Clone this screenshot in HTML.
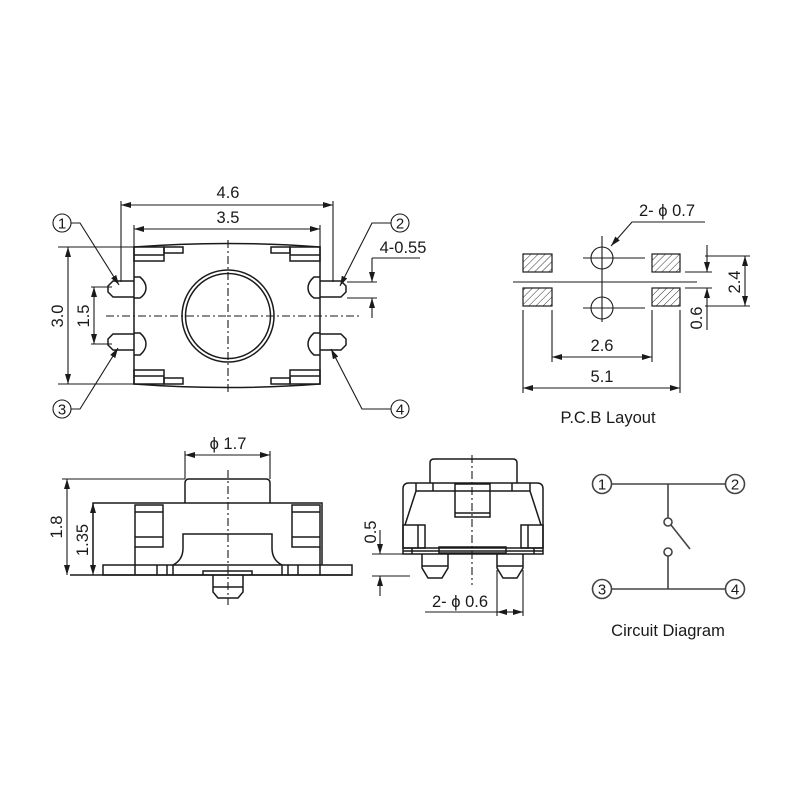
<!DOCTYPE html>
<html><head><meta charset="utf-8"><style>
html,body{margin:0;padding:0;background:#fff}
svg{display:block}
text{font-family:"Liberation Sans",Arial,sans-serif;fill:#1a1a1a}
</style></head><body>
<svg width="800" height="800" viewBox="0 0 800 800" xmlns="http://www.w3.org/2000/svg">
<defs>
<marker id="a" viewBox="0 0 10 6" refX="10" refY="3" markerWidth="10" markerHeight="6" orient="auto-start-reverse" markerUnits="userSpaceOnUse"><path d="M0,0 L10,3 L0,6 z" fill="#1a1a1a"/></marker>
<pattern id="h" width="5" height="5" patternUnits="userSpaceOnUse" patternTransform="rotate(45)"><rect width="5" height="5" fill="#fff"/><line x1="0" y1="0" x2="0" y2="5" stroke="#333" stroke-width="1"/></pattern>
</defs>
<g fill="none" stroke="#1a1a1a" stroke-width="1.5">
<!-- ===== TOP VIEW ===== -->
<path d="M134,247 Q228,240 320,247 L320,384 Q228,391 134,384 Z"/>
<circle cx="228" cy="316" r="46"/><circle cx="228" cy="316" r="42.5"/>
<rect x="134" y="247" width="30" height="14"/><line x1="134" y1="255" x2="164" y2="255"/><rect x="164" y="247" width="19" height="6"/>
<rect x="290" y="247" width="30" height="14"/><line x1="290" y1="255" x2="320" y2="255"/><rect x="271" y="247" width="19" height="6"/>
<rect x="134" y="370" width="30" height="14"/><line x1="134" y1="376" x2="164" y2="376"/><rect x="164" y="378" width="19" height="6"/>
<rect x="290" y="370" width="30" height="14"/><line x1="290" y1="376" x2="320" y2="376"/><rect x="271" y="378" width="19" height="6"/>
<path d="M134,281 L113,281 L108,286 L108,292 L113,297 L134,297"/><path d="M134,277 L140,277 Q146,282 146,288 Q146,294 140,298 L134,298"/>
<path d="M134,334 L113,334 L108,339 L108,345 L113,350 L134,350"/><path d="M134,333 L140,333 Q146,338 146,344 Q146,350 140,355 L134,355"/>
<path d="M320,281 L341,281 L346,286 L346,292 L341,297 L320,297"/><path d="M320,277 L314,277 Q308,282 308,288 Q308,294 314,298 L320,298"/>
<path d="M320,334 L341,334 L346,339 L346,345 L341,350 L320,350"/><path d="M320,333 L314,333 Q308,338 308,344 Q308,350 314,355 L320,355"/>
<line x1="106" y1="316" x2="360" y2="316" stroke-dasharray="8,3,2,3" stroke-width="1.1"/>
<line x1="228" y1="240" x2="228" y2="394" stroke-dasharray="8,3,2,3" stroke-width="1.1"/>
<g stroke-width="1.1">
<line x1="121" y1="201" x2="121" y2="282"/><line x1="333" y1="201" x2="333" y2="282"/>
<line x1="121" y1="205" x2="333" y2="205" marker-start="url(#a)" marker-end="url(#a)"/>
<line x1="134" y1="225" x2="134" y2="247"/><line x1="320" y1="225" x2="320" y2="247"/>
<line x1="134" y1="229" x2="320" y2="229" marker-start="url(#a)" marker-end="url(#a)"/>
<line x1="58" y1="247" x2="134" y2="247"/><line x1="58" y1="384" x2="134" y2="384"/>
<line x1="68" y1="247" x2="68" y2="384" marker-start="url(#a)" marker-end="url(#a)"/>
<line x1="91" y1="287" x2="112" y2="287"/><line x1="91" y1="344" x2="112" y2="344"/>
<line x1="94" y1="287" x2="94" y2="344" marker-start="url(#a)" marker-end="url(#a)"/>
<line x1="347" y1="282" x2="377" y2="282"/><line x1="347" y1="298" x2="377" y2="298"/>
<line x1="372" y1="258" x2="420" y2="258"/>
<line x1="372" y1="258" x2="372" y2="282" marker-end="url(#a)"/>
<line x1="372" y1="318" x2="372" y2="298" marker-end="url(#a)"/>
<circle cx="62" cy="223" r="9"/><polyline points="71,223 80,223 119,285" marker-end="url(#a)"/>
<circle cx="400" cy="223" r="9"/><polyline points="391,223 372,223 340,286" marker-end="url(#a)"/>
<circle cx="62" cy="409" r="9"/><polyline points="71,409 80,409 118,348" marker-end="url(#a)"/>
<circle cx="400" cy="409" r="9"/><polyline points="391,409 362,409 331,349" marker-end="url(#a)"/>
</g>
<!-- ===== SIDE VIEW ===== -->
<path d="M185,503 L185,483 Q185,479 189,479 L266,479 Q270,479 270,483 L270,503"/>
<path d="M93,565 L93,503 L322,503 L322,565"/>
<rect x="135" y="505" width="28" height="42"/><line x1="135" y1="512" x2="163" y2="512"/><line x1="135" y1="537" x2="163" y2="537"/>
<rect x="292" y="505" width="28" height="42"/><line x1="292" y1="512" x2="320" y2="512"/><line x1="292" y1="537" x2="320" y2="537"/>
<path d="M135,547 L135,575"/><path d="M320,547 L320,575"/>
<path d="M173,575 L173,565 Q183,560 183,548 L183,534 L272,534 L272,548 Q272,560 282,565 L282,575"/>
<rect x="103" y="565" width="249" height="10"/>
<line x1="70" y1="575" x2="352" y2="575"/>
<line x1="157" y1="565" x2="157" y2="575"/><line x1="167" y1="565" x2="167" y2="575"/><line x1="288" y1="565" x2="288" y2="575"/><line x1="298" y1="565" x2="298" y2="575"/>
<path d="M203,575 L203,571 L252,571 L252,575"/>
<path d="M213,575 L213,592 L218,598 L238,598 L243,592 L243,575"/><line x1="213" y1="587" x2="243" y2="587"/>
<line x1="228" y1="470" x2="228" y2="605" stroke-dasharray="8,3,2,3" stroke-width="1.1"/>
<g stroke-width="1.1">
<line x1="185" y1="451" x2="185" y2="479"/><line x1="270" y1="451" x2="270" y2="479"/>
<line x1="185" y1="455" x2="270" y2="455" marker-start="url(#a)" marker-end="url(#a)"/>
<line x1="62" y1="479" x2="185" y2="479"/>
<line x1="67" y1="479" x2="67" y2="575" marker-start="url(#a)" marker-end="url(#a)"/>
<line x1="93" y1="503" x2="93" y2="575" marker-start="url(#a)" marker-end="url(#a)"/>
</g>
<!-- ===== FRONT VIEW ===== -->
<path d="M403,554 L403,489 Q403,483 409,483 L537,483 Q543,483 543,489 L543,554 Z"/>
<path d="M430,483 L430,463 Q430,459 434,459 L513,459 Q517,459 517,463 L517,483"/>
<line x1="416" y1="491" x2="530" y2="491"/>
<line x1="416" y1="483" x2="416" y2="491"/><line x1="433" y1="483" x2="433" y2="491"/><line x1="512" y1="483" x2="512" y2="491"/><line x1="530" y1="483" x2="530" y2="491"/>
<path d="M416,491 L405,525"/><path d="M530,491 L541,525"/>
<rect x="455" y="484" width="35" height="33"/><line x1="455" y1="513" x2="490" y2="513"/>
<rect x="403" y="525" width="22" height="23"/><line x1="418" y1="525" x2="418" y2="548"/>
<rect x="521" y="525" width="22" height="23"/><line x1="528" y1="525" x2="528" y2="548"/>
<line x1="403" y1="548" x2="543" y2="548"/><line x1="403" y1="551" x2="543" y2="551"/>
<line x1="412" y1="548" x2="412" y2="554"/><line x1="534" y1="548" x2="534" y2="554"/>
<rect x="439" y="547" width="67" height="6"/>
<path d="M422,554 L422,568 L428,578 L442,578 L448,568 L448,554"/><line x1="422" y1="566" x2="448" y2="566"/>
<path d="M497,554 L497,568 L503,578 L517,578 L523,568 L523,554"/><line x1="497" y1="566" x2="523" y2="566"/>
<line x1="472" y1="455" x2="472" y2="585" stroke-dasharray="8,3,2,3" stroke-width="1.1"/>
<g stroke-width="1.1">
<line x1="372" y1="554" x2="403" y2="554"/><line x1="372" y1="576" x2="410" y2="576"/>
<line x1="380" y1="530" x2="380" y2="554" marker-end="url(#a)"/>
<line x1="380" y1="596" x2="380" y2="576" marker-end="url(#a)"/>
<line x1="497" y1="570" x2="497" y2="616"/><line x1="523" y1="570" x2="523" y2="616"/>
<line x1="425" y1="612" x2="497" y2="612"/>
<line x1="510" y1="612" x2="497" y2="612" marker-end="url(#a)"/>
<line x1="510" y1="612" x2="523" y2="612" marker-end="url(#a)"/>
</g>
<!-- ===== PCB ===== -->
<g stroke-width="1.2">
<rect x="523" y="254" width="29" height="18" fill="url(#h)"/>
<rect x="523" y="288" width="29" height="18" fill="url(#h)"/>
<rect x="652" y="254" width="28" height="18" fill="url(#h)"/>
<rect x="652" y="288" width="28" height="18" fill="url(#h)"/>
</g>
<g stroke-width="1.1">
<circle cx="602" cy="258" r="11"/><circle cx="602" cy="308" r="11"/>
<line x1="583" y1="258" x2="645" y2="258"/><line x1="583" y1="308" x2="645" y2="308"/>
<line x1="602" y1="236" x2="602" y2="322"/>
<line x1="513" y1="282" x2="697" y2="282"/>
<polyline points="705,222 632,222 611,246" marker-end="url(#a)"/>
<line x1="705" y1="256" x2="750" y2="256"/><line x1="705" y1="306" x2="750" y2="306"/>
<line x1="745" y1="256" x2="745" y2="306" marker-start="url(#a)" marker-end="url(#a)"/>
<line x1="685" y1="272" x2="712" y2="272"/><line x1="685" y1="288" x2="712" y2="288"/>
<line x1="707" y1="245" x2="707" y2="272" marker-end="url(#a)"/>
<line x1="707" y1="330" x2="707" y2="288" marker-end="url(#a)"/>
<line x1="552" y1="310" x2="552" y2="362"/><line x1="652" y1="310" x2="652" y2="362"/>
<line x1="552" y1="357" x2="652" y2="357" marker-start="url(#a)" marker-end="url(#a)"/>
<line x1="523" y1="310" x2="523" y2="393"/><line x1="680" y1="310" x2="680" y2="393"/>
<line x1="523" y1="388" x2="680" y2="388" marker-start="url(#a)" marker-end="url(#a)"/>
</g>
<!-- ===== CIRCUIT ===== -->
<g stroke="#444" stroke-width="1.6">
<circle cx="602" cy="484" r="9.5"/><circle cx="735" cy="484" r="9.5"/>
<circle cx="602" cy="589" r="9.5"/><circle cx="735" cy="589" r="9.5"/>
<line x1="611" y1="484" x2="726" y2="484"/><line x1="611" y1="589" x2="726" y2="589"/>
<line x1="668" y1="484" x2="668" y2="518"/><circle cx="668" cy="522" r="4"/>
<line x1="671" y1="525" x2="690" y2="549"/>
<circle cx="668" cy="552" r="4"/><line x1="668" y1="556" x2="668" y2="589"/>
</g>
</g>
<g font-size="16.5">
<text x="228" y="198" text-anchor="middle">4.6</text>
<text x="228" y="223" text-anchor="middle">3.5</text>
<text x="403" y="253" text-anchor="middle">4-0.55</text>
<text transform="translate(63,316) rotate(-90)" text-anchor="middle">3.0</text>
<text transform="translate(89,316) rotate(-90)" text-anchor="middle">1.5</text>
<text x="62" y="228.5" font-size="15" text-anchor="middle">1</text>
<text x="400" y="228.5" font-size="15" text-anchor="middle">2</text>
<text x="62" y="414.5" font-size="15" text-anchor="middle">3</text>
<text x="400" y="414.5" font-size="15" text-anchor="middle">4</text>
<text x="228" y="449" text-anchor="middle">ϕ 1.7</text>
<text transform="translate(62,527) rotate(-90)" text-anchor="middle">1.8</text>
<text transform="translate(88,540) rotate(-90)" text-anchor="middle">1.35</text>
<text transform="translate(376,532) rotate(-90)" text-anchor="middle">0.5</text>
<text x="460" y="607" text-anchor="middle">2- ϕ 0.6</text>
<text x="667" y="216" text-anchor="middle">2- ϕ 0.7</text>
<text transform="translate(740,282) rotate(-90)" text-anchor="middle">2.4</text>
<text transform="translate(702,318) rotate(-90)" text-anchor="middle">0.6</text>
<text x="602" y="351" text-anchor="middle">2.6</text>
<text x="602" y="382" text-anchor="middle">5.1</text>
<text x="608" y="423" text-anchor="middle">P.C.B Layout</text>
<text x="602" y="489.5" font-size="15" text-anchor="middle">1</text>
<text x="735" y="489.5" font-size="15" text-anchor="middle">2</text>
<text x="602" y="594.5" font-size="15" text-anchor="middle">3</text>
<text x="735" y="594.5" font-size="15" text-anchor="middle">4</text>
<text x="668" y="636" text-anchor="middle">Circuit Diagram</text>
</g>
</svg>
</body></html>
